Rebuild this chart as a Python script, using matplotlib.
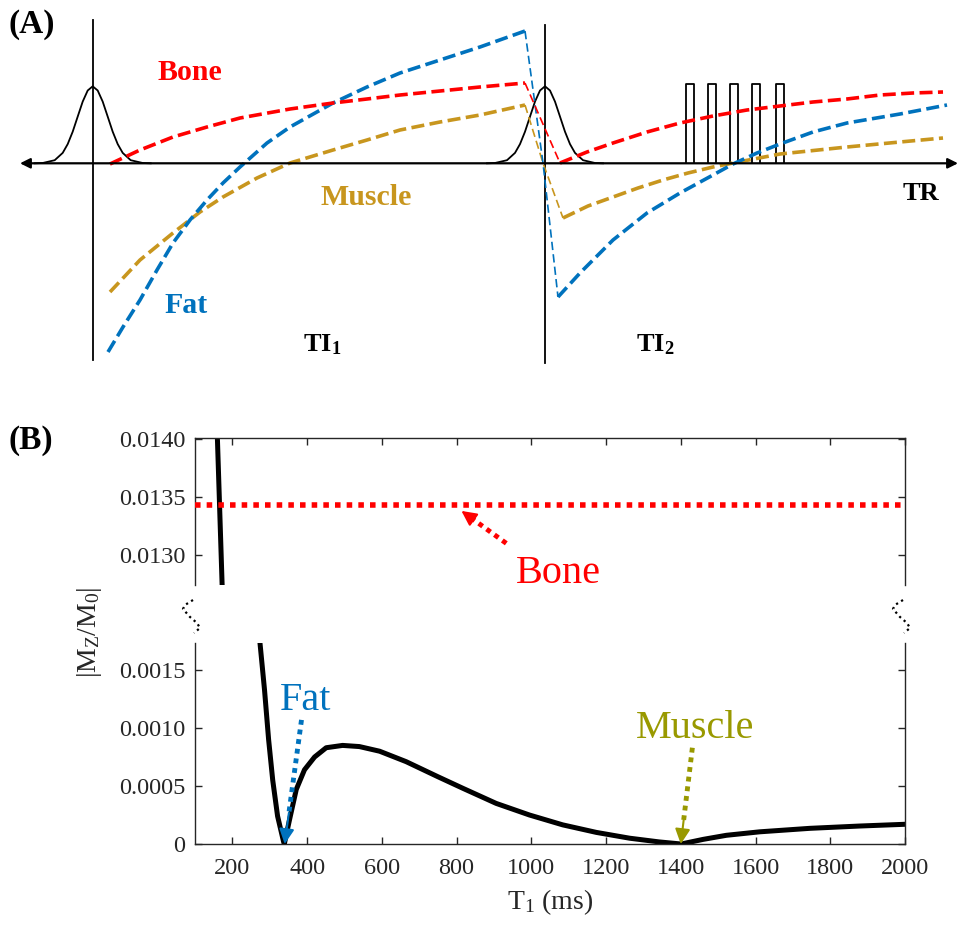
import numpy as np
import matplotlib.pyplot as plt
from matplotlib.lines import Line2D
from matplotlib.ticker import FuncFormatter

plt.rcParams['font.family'] = ['Liberation Serif', 'DejaVu Serif']
plt.rcParams['mathtext.fontset'] = 'custom'
plt.rcParams['mathtext.rm'] = 'Liberation Serif'
plt.rcParams['mathtext.it'] = 'Liberation Serif:italic'
plt.rcParams['mathtext.bf'] = 'Liberation Serif:bold'

W, H = 960, 927

# ────────────────────────────────────────────────
# Panel A: schematic (values read in picture pixels, y pointing down)
# ────────────────────────────────────────────────
baseline = 163.3
sync_x = [92.7, 545]
sync_top = [20, 25]
sync_bottom = [360, 363]

# inversion pulse envelope (offset, height)
pulse_dx = [-58, -50, -38, -30, -25, -20, -15, -10, -5, 0, 5, 10, 15, 20, 25, 30, 38, 50, 58]
pulse_h = [0, 0.3, 3.1, 10.4, 19.2, 31.6, 46.7, 61.7, 72.8, 77,
           72.8, 61.7, 46.7, 31.6, 19.2, 10.4, 3.1, 0.3, 0]

# readout pulse train
readout_x = [686, 708, 730, 752, 776]
readout_w = 7.5
readout_h = 79

# bone
bone_t1 = [110, 140, 173, 207, 240, 290, 333, 367, 400, 440, 480, 525]
bone_y1 = [164, 150, 137, 127, 118, 109, 103, 99, 95, 91, 87, 83]
bone_tinv = [525, 560]
bone_yinv = [83, 163]
bone_t2 = [560, 587, 613, 647, 680, 713, 747, 780, 813, 847, 880, 913, 943]
bone_y2 = [163, 152, 143, 132, 123, 116, 110, 106, 102, 99, 95, 93, 92]

# fat
fat_t1 = [108, 123, 140, 157, 173, 190, 207, 223, 240, 267, 290, 333, 367, 400, 440, 480, 525]
fat_y1 = [352, 327, 300, 270, 243, 220, 200, 183, 167, 143, 127, 103, 87, 73, 60, 47, 31]
fat_tinv = [525, 543, 558]
fat_yinv = [31, 163, 297]
fat_t2 = [558, 580, 613, 647, 680, 713, 733, 757, 780, 813, 847, 900, 947]
fat_y2 = [297, 273, 240, 213, 193, 175, 164, 153, 144, 132, 123, 114, 105]

# muscle
mus_t1 = [110, 140, 173, 200, 223, 257, 290, 333, 367, 400, 440, 480, 525]
mus_y1 = [292, 260, 233, 212, 197, 178, 163, 150, 140, 130, 122, 115, 105]
mus_tinv = [525, 543, 563]
mus_yinv = [105, 163, 218]
mus_t2 = [563, 588, 613, 638, 663, 688, 713, 733, 780, 847, 900, 943]
mus_y2 = [218, 206, 197, 188, 180, 173, 167, 163, 154, 147, 142, 138]

RED, BLUE, GOLD, OLIVE = '#FF0000', '#0072BD', '#C8961E', '#999900'

# ────────────────────────────────────────────────
# Panel B data
# ────────────────────────────────────────────────
t1_ms = [158, 173, 274, 286, 297, 308, 321, 337, 339, 353, 371, 393, 420, 451, 495,
         540, 594, 665, 750, 817, 906, 995, 1084, 1174, 1263, 1342, 1401, 1460, 1522,
         1611, 1745, 1879, 2000]
mz_abs = [0.01420, 0.01270, 0.00173, 0.00133, 0.00090, 0.00055, 0.00024, 0.00002,
          0.0, 0.00021, 0.00047, 0.00064, 0.00075, 0.00083, 0.00085, 0.00084, 0.00080,
          0.00071, 0.00058, 0.00048, 0.00035, 0.00025, 0.000165, 0.00010, 0.00005,
          0.000018, 0.0, 0.00004, 0.000075, 0.000105, 0.000135, 0.000155, 0.00017]
bone_level = 0.01343
x_ticks = [200, 400, 600, 800, 1000, 1200, 1400, 1600, 1800, 2000]
top_yticks = [0.0130, 0.0135, 0.0140]
bot_yticks = [0, 0.0005, 0.0010, 0.0015]

fig = plt.figure(figsize=(W / 100, H / 100), dpi=100)

ax_a = fig.add_axes([0, 1 - 370 / H, 1, 370 / H])
ax_a.set_xlim(0, W)
ax_a.set_ylim(370, 0)
ax_a.axis('off')

ax_a.annotate('', xy=(958, baseline), xytext=(20, baseline),
              arrowprops=dict(arrowstyle='<|-|>,head_length=0.6,head_width=0.3',
                              color='black', lw=1.6, shrinkA=0, shrinkB=0))
for x, y0, y1 in zip(sync_x, sync_top, sync_bottom):
    ax_a.plot([x, x], [y0, y1], color='black', lw=1.3)
    ax_a.plot(x + np.array(pulse_dx), baseline - np.array(pulse_h), color='black', lw=1.3)
for x0 in readout_x:
    ax_a.plot([x0, x0, x0 + readout_w, x0 + readout_w],
              [baseline, baseline - readout_h, baseline - readout_h, baseline],
              color='black', lw=1.3)

thick = dict(lw=2.6, dashes=(3.6, 1.5))
thin = dict(lw=1.2, dashes=(5, 2.5))
for col, tt1, yy1, tti, yyi, tt2, yy2 in [
        (GOLD, mus_t1, mus_y1, mus_tinv, mus_yinv, mus_t2, mus_y2),
        (BLUE, fat_t1, fat_y1, fat_tinv, fat_yinv, fat_t2, fat_y2),
        (RED, bone_t1, bone_y1, bone_tinv, bone_yinv, bone_t2, bone_y2)]:
    ax_a.plot(tt1, yy1, color=col, **thick)
    ax_a.plot(tti, yyi, color=col, **thin)
    ax_a.plot(tt2, yy2, color=col, **thick)

ax_a.text(8, 24, '(A)', fontsize=24, fontweight='bold', ha='left', va='center')
ax_a.text(190, 72, 'Bone', fontsize=21.5, fontweight='bold', color=RED, ha='center', va='center')
ax_a.text(366, 197, 'Muscle', fontsize=21.5, fontweight='bold', color=GOLD, ha='center', va='center')
ax_a.text(186, 305, 'Fat', fontsize=21.5, fontweight='bold', color=BLUE, ha='center', va='center')
ax_a.text(322, 345, r'$\mathbf{TI_1}$', fontsize=19, ha='center', va='center')
ax_a.text(655, 345, r'$\mathbf{TI_2}$', fontsize=19, ha='center', va='center')
ax_a.text(921, 193, 'TR', fontsize=19, fontweight='bold', ha='center', va='center')

fig.text(8 / W, 1 - 440 / H, '(B)', fontsize=24, fontweight='bold', ha='left', va='center')

# ────────────────────────────────────────────────
# Panel B: broken-axis plot
# ────────────────────────────────────────────────
AX_COL = '#262626'
ax_top = fig.add_axes([195 / W, 1 - 585 / H, 710 / W, 147 / H])
ax_bot = fig.add_axes([195 / W, 1 - 844 / H, 710 / W, 201 / H])

for ax in (ax_top, ax_bot):
    ax.plot(t1_ms, mz_abs, color='black', lw=3.6, solid_joinstyle='round', zorder=2)
    ax.set_xlim(100, 2000)
    ax.set_xticks(x_ticks)
    for s in ax.spines.values():
        s.set_color(AX_COL)
        s.set_linewidth(1.0)
    ax.tick_params(axis='both', direction='in', length=5, width=1.0, color=AX_COL,
                   labelcolor=AX_COL, labelsize=17.5)
    ax.tick_params(axis='y', left=True, right=True, pad=7)

ax_top.set_ylim(0.01274, 0.01401)
ax_top.set_yticks(top_yticks)
ax_top.yaxis.set_major_formatter(FuncFormatter(lambda v, p: f'{v:.4f}'))
ax_top.spines['bottom'].set_visible(False)
ax_top.tick_params(axis='x', bottom=False, top=True, labelbottom=False)
ax_top.axhline(bone_level, color=RED, lw=4, dashes=(1, 1.1), zorder=3)

ax_bot.set_ylim(0, 0.001733)
ax_bot.set_yticks(bot_yticks)
ax_bot.yaxis.set_major_formatter(FuncFormatter(lambda v, p: '0' if v == 0 else f'{v:.4f}'))
ax_bot.spines['top'].set_visible(False)
ax_bot.tick_params(axis='x', bottom=True, top=False, pad=10)
ax_bot.set_xlabel(r'T$_\mathregular{1}$ (ms)', fontsize=20, labelpad=6, color=AX_COL)

fig.text(90 / W, 1 - 632 / H, r'|M$_\mathregular{Z}$/M$_\mathregular{0}$|', rotation=90,
         fontsize=20, ha='center', va='center', color=AX_COL)


def dotted_arrow(ax, tail, tip, color, lw):
    tail = np.array(tail, float)
    tip = np.array(tip, float)
    mid = tip + 0.25 * (tail - tip)
    ax.plot([tail[0], mid[0]], [tail[1], mid[1]], color=color, lw=lw, dashes=(1, 1), zorder=4)
    ax.annotate('', xy=tip, xytext=mid, annotation_clip=False,
                arrowprops=dict(arrowstyle='-|>,head_length=0.9,head_width=0.45',
                                color=color, lw=1.5, shrinkA=0, shrinkB=0), zorder=4)


dotted_arrow(ax_top, (933, 0.01310), (813, 0.01338), RED, 3.5)
ax_top.text(960, 0.01276, 'Bone', fontsize=29, color=RED, ha='left', va='baseline')
dotted_arrow(ax_bot, (385, 0.00107), (340, 0.0), BLUE, 3.5)
ax_bot.text(326, 0.001155, 'Fat', fontsize=29, color=BLUE, ha='left', va='baseline')
dotted_arrow(ax_bot, (1431, 0.00083), (1400, 0.0), OLIVE, 3.5)
ax_bot.text(1281, 0.000914, 'Muscle', fontsize=29, color=OLIVE, ha='left', va='baseline')

# break marks between the two axes
brk_dx = [-2, -10, -12, -5, 2, 5, -1]
brk_dy = [3, 8, 12, 20, 26, 31, 36]
for x0 in (195, 905):
    fig.add_artist(Line2D((x0 + np.array(brk_dx)) / W, 1 - (597 + np.array(brk_dy)) / H,
                          transform=fig.transFigure, ls=':', lw=1.6, color='black'))

fig.savefig('out.png', dpi=100)
